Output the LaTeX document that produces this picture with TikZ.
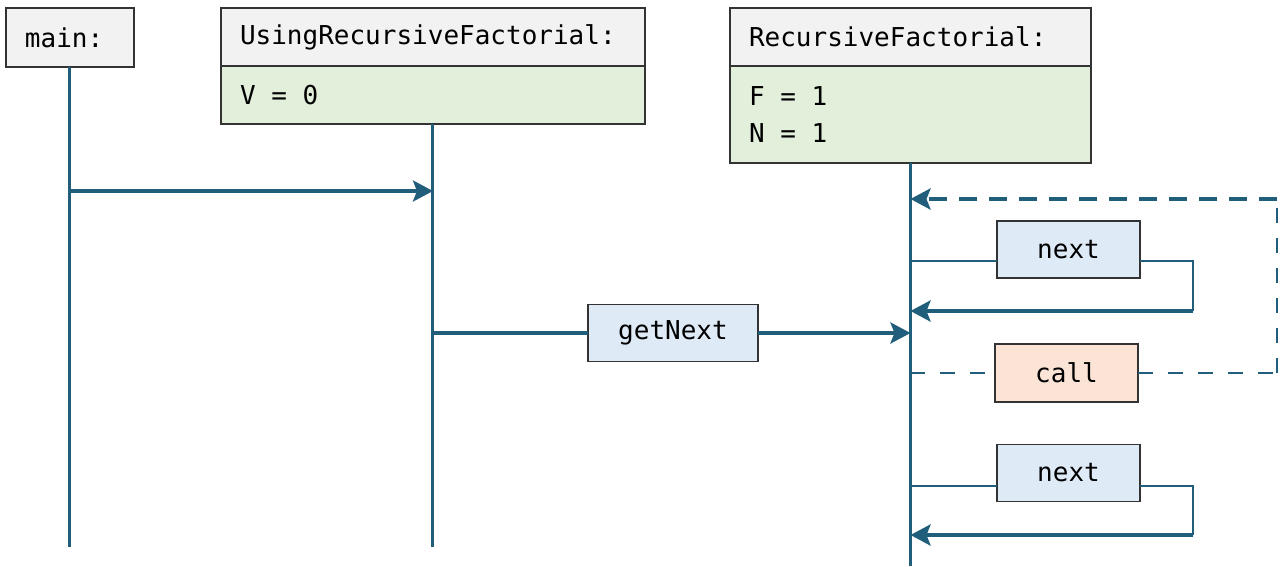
\documentclass[tikz,border=0pt]{standalone}
\usepackage{fontspec}
\setmonofont{DejaVu Sans Mono}
\usetikzlibrary {arrows.meta}

\definecolor{seqline}{RGB}{32,94,124}
\definecolor{hdrgray}{RGB}{242,242,242}
\definecolor{varsgreen}{RGB}{226,239,218}
\definecolor{msgblue}{RGB}{222,234,246}
\definecolor{callpeach}{RGB}{251,228,213}

\newcommand{\msp}{\hphantom{0}}

\begin{document}
\begin{tikzpicture}[x=0.02cm, y=-0.02cm,
    every node/.style={font=\ttfamily\fontsize{14.8}{21.5}\selectfont},
    box/.style={draw=black!80, line width=0.85pt, inner sep=0pt, outer sep=0pt},
    objbox/.style={box, anchor=north west, align=left, inner xsep=0.38cm, text width=#1},
    msg/.style={box, fill=msgblue, minimum width=2.86cm, minimum height=1.14cm},
    life/.style={seqline, line width=1.7pt},
    arr/.style={seqline, line width=2pt, -{Stealth[length=4mm, width=4.2mm, inset=0.8mm]}}]

    \useasboundingbox (0,0) rectangle (1283,566);

    % objects
    \node[objbox=1.80cm, fill=hdrgray, minimum height=1.18cm] (main) at (6,8) {main:};
    \node[objbox=7.72cm, fill=hdrgray, minimum height=1.16cm] (useHdr) at (221,8) {UsingRecursiveFactorial:};
    \node[objbox=7.72cm, fill=varsgreen, minimum height=1.16cm] (useVars) at (useHdr.south west) {V\msp=\msp0};
    \node[objbox=6.46cm, fill=hdrgray, minimum height=1.16cm] (recHdr) at (730,8) {RecursiveFactorial:};
    \node[objbox=6.46cm, fill=varsgreen, minimum height=1.94cm] (recVars) at (recHdr.south west) {F\msp=\msp1\\N\msp=\msp1};

    % lifelines
    \draw[life] (main.south) -- ++(0,480);
    \draw[life] (useVars.south) -- ++(0,423);
    \draw[life] (recVars.south) -- ++(0,403);

    \draw[arr] (main.south |- 0,191) -- (useVars.south |- 0,191);

    % getNext
    \node[msg, minimum width=3.4cm] (getNext) at (673,333) {getNext};
    \draw[seqline, line width=2pt] (useVars.south |- getNext) -- (getNext);
    \draw[arr] (getNext) -- (recVars.south |- getNext);

    % recursive call, back to the top
    \node[box, fill=callpeach, minimum width=2.86cm, minimum height=1.16cm] (call) at (1066.5,373) {call};
    \draw[seqline, line width=1.6pt, dash pattern=on 0.3cm off 0.3cm] (recVars.south |- call) -- (call);
    \draw[seqline, line width=1.6pt, dash pattern=on 0.3cm off 0.3cm] (call) -- (1283,373);
    \draw[seqline, line width=1.6pt, dash pattern=on 0.3cm off 0.3cm] (1277,373) -- (1277,199);
    \draw[arr, line width=2.3pt, dash pattern=on 0.36cm off 0.24cm] (1277,199) -- (recVars.south |- 0,199);

    % next, twice
    \node[msg] (nextA) at (1068.5,249.5) {next};
    \draw[seqline, line width=1.4pt] (recVars.south |- 0,261) -- (nextA.west |- 0,261);
    \draw[seqline, line width=1.4pt] (nextA.east |- 0,261) -- (1193,261) -- (1193,311);
    \draw[arr, line width=2.4pt] (1193,311) -- (recVars.south |- 0,311);

    \node[msg] (nextB) at (1068.5,473) {next};
    \draw[seqline, line width=1.4pt] (recVars.south |- 0,486) -- (nextB.west |- 0,486);
    \draw[seqline, line width=1.4pt] (nextB.east |- 0,486) -- (1193,486) -- (1193,535);
    \draw[arr, line width=2.4pt] (1193,535) -- (recVars.south |- 0,535);

\end{tikzpicture}
\end{document}
